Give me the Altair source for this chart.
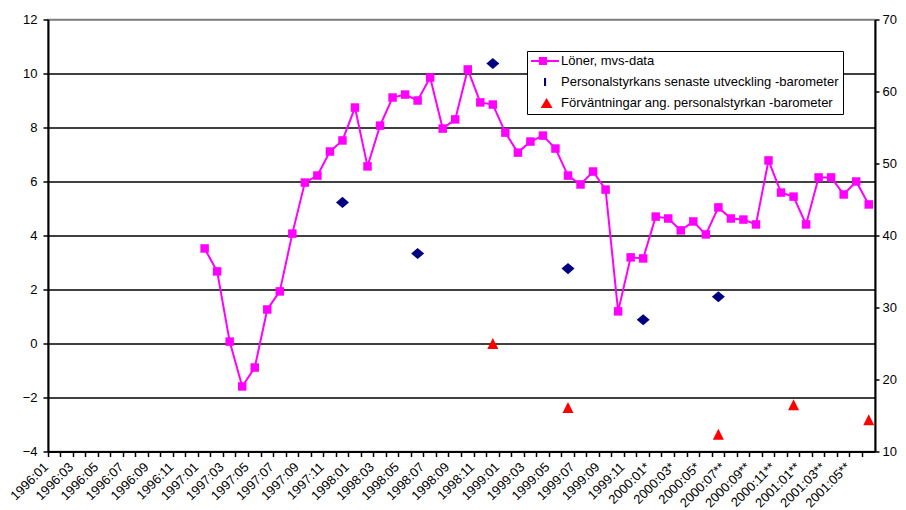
import altair as alt
import pandas as pd

# ---- categories (monthly, 1996:01 .. 2001:06) ----
categories = []
for yr in range(1996, 2002):
    for m in range(1, 13):
        if yr == 2001 and m > 6:
            break
        suffix = ""
        if yr == 2000 and m <= 6:
            suffix = "*"
        elif yr >= 2000:
            suffix = "**"
        categories.append(f"{yr}:{m:02d}{suffix}")

# ---- Löner, mvs-data (left axis), 1997:01 .. 2001:06 ----
loner_months = categories[12:]
loner_values = [3.52, 2.67, 0.07, -1.59, -0.89, 1.26, 1.93, 4.07, 5.96, 6.22, 7.11, 7.52,
                8.74, 6.56, 8.07, 9.11, 9.22, 9.00, 9.85, 7.96, 8.30, 10.15, 8.93, 8.85,
                7.81, 7.07, 7.48, 7.70, 7.22, 6.22, 5.89, 6.37, 5.70, 1.19, 3.19, 3.15,
                4.70, 4.63, 4.19, 4.52, 4.04, 5.04, 4.63, 4.59, 4.41, 6.78, 5.59, 5.44,
                4.41, 6.15, 6.15, 5.52, 6.00, 5.15]

# ---- barometers (right axis) ----
pers_months = ["1997:12", "1998:06", "1998:12", "1999:06", "1999:12", "2000:06*"]
pers_values = [44.6, 37.5, 63.9, 35.4, 28.3, 31.5]
forv_months = ["1998:12", "1999:06", "2000:06*", "2000:12**", "2001:06**"]
forv_values = [25.0, 16.1, 12.4, 16.5, 14.4]

series_names = ["Löner, mvs-data",
                "Personalstyrkans senaste utveckling -barometer",
                "Förväntningar ang. personalstyrkan -barometer"]
series_colors = ["#FF00FF", "#000080", "#FF0000"]
legend_shapes = [
    "M-1.23,-0.077H1.15V0.077H-1.23Z M-0.39,-0.31H0.23V0.31H-0.39Z",
    "M0.0,-0.31H0.16V0.31H0.0Z",
    "M0.2,-0.38L0.66,0.38L-0.26,0.38Z",
]

left_ticks = [-4, -2, 0, 2, 4, 6, 8, 10, 12]
right_ticks = [10, 20, 30, 40, 50, 60, 70]

FONT = "Liberation Sans"

loner_df = pd.DataFrame({"month": loner_months, "value": loner_values})
pers_df = pd.DataFrame({"month": pers_months, "value": pers_values})
forv_df = pd.DataFrame({"month": forv_months, "value": forv_values})
legend_df = pd.DataFrame({"series": series_names})


def x_enc():
    return alt.X(
        "month:N",
        sort=categories,
        scale=alt.Scale(type="band", domain=categories, paddingInner=0, paddingOuter=0),
        axis=alt.Axis(
            title=None,
            bandPosition=0,
            labelAngle=-45,
            labelAlign="right",
            labelBaseline="middle",
            labelOffset=-8,
            labelPadding=8,
            tickSize=5,
            labelOverlap=False,
            labelExpr="toNumber(substring(datum.value, 5, 7)) % 2 == 1 ? datum.value : ''",
        ),
    )


y_left = alt.Y(
    "value:Q",
    scale=alt.Scale(domain=[-4, 12], nice=False, zero=False),
    axis=alt.Axis(
        title=None, orient="left", values=left_ticks, grid=True,
        gridColor=alt.condition("datum.value == 12", alt.value("#808080"), alt.value("black")),
        gridWidth=1.5, tickSize=5, labelPadding=6,
    ),
)

y_right = alt.Y(
    "value:Q",
    scale=alt.Scale(domain=[10, 70], nice=False, zero=False),
    axis=alt.Axis(title=None, orient="right", values=right_ticks, grid=False,
                  tickSize=4, labelPadding=3),
)

loner_line = alt.Chart(loner_df).mark_line(color="#FF00FF", strokeWidth=2).encode(
    x=x_enc(), y=y_left)
loner_pts = alt.Chart(loner_df).mark_point(
    shape="square", filled=True, size=72, color="#FF00FF", opacity=1
).encode(x=x_enc(), y=y_left)
left_layer = alt.layer(loner_line, loner_pts)

pers_pts = alt.Chart(pers_df).mark_point(
    shape="M-1,0L0,-0.85L1,0L0,0.85Z", filled=True, size=169, color="#000080", opacity=1
).encode(x=x_enc(), y=y_right)
forv_pts = alt.Chart(forv_df).mark_point(
    shape="M0,-1L1,1L-1,1Z", filled=True, size=121, color="#FF0000", opacity=1
).encode(x=x_enc(), y=y_right)
right_layer = alt.layer(pers_pts, forv_pts)

legend_def = alt.Legend(
    title=None, orient="none", legendX=479, legendY=31.5,
    fillColor="white", strokeColor="black", padding=4,
    symbolSize=676, clipHeight=12, rowPadding=8, labelOffset=4,
    symbolOpacity=1, symbolStrokeWidth=0, labelLimit=500,
    labelFont=FONT, labelFontSize=13, labelColor="black",
)
legend_layer = alt.Chart(legend_df).mark_point(filled=True, opacity=0).encode(
    color=alt.Color("series:N", sort=series_names,
                    scale=alt.Scale(domain=series_names, range=series_colors),
                    legend=legend_def),
    shape=alt.Shape("series:N", sort=series_names,
                    scale=alt.Scale(domain=series_names, range=legend_shapes),
                    legend=legend_def),
)

chart = alt.layer(left_layer, right_layer, legend_layer).resolve_scale(
    y="independent"
).properties(
    width=827, height=432,
    autosize=alt.AutoSizeParams(type="none"),
    padding={"left": 40, "top": 11.5, "right": 23, "bottom": 58},
    background="white",
).configure_axis(
    labelFont=FONT, labelFontSize=13, labelColor="black",
    domainColor="black", domainWidth=2, tickColor="black", tickWidth=1.5,
).configure_view(
    stroke="#808080", strokeWidth=1.5,
)

chart.save("out.html", embed_options={"renderer": "svg", "actions": False})
